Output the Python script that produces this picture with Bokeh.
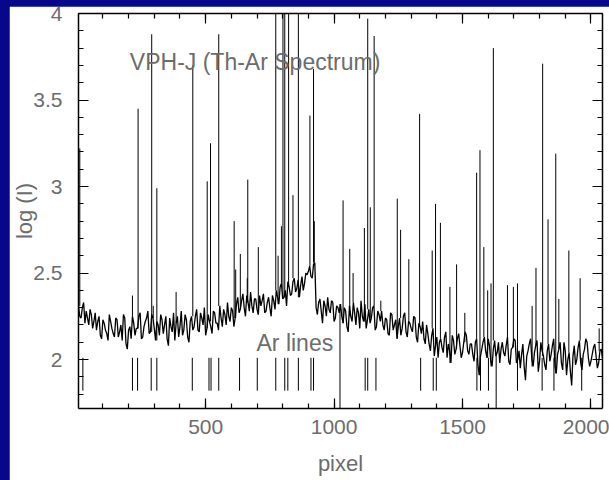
import numpy as np
from bokeh.plotting import figure
from bokeh.models import LinearAxis, SingleIntervalTicker, Range1d, CustomJSTickFormatter
from bokeh.layouts import column
from bokeh.embed import file_html
from bokeh.resources import INLINE
from bokeh.core.properties import value

# ---- data ----
# continuum samples at pixel 5, 15, 25, ...
pix_start, pix_step = 5, 10
continuum = [
    2.31, 2.24, 2.33, 2.28, 2.20, 2.26, 2.22,
    2.17, 2.25, 2.12, 2.21, 2.15, 2.26, 2.18, 2.13,
    2.23, 2.16, 2.11, 2.24, 2.06, 2.19, 2.25, 2.14,
    2.18, 2.27, 2.13, 2.22, 2.28, 2.16, 2.24, 2.11, 2.20, 2.26,
    2.15, 2.25, 2.08, 2.19, 2.27, 2.21, 2.13, 2.28, 2.17, 2.23, 2.10, 2.25,
    2.19, 2.29, 2.16, 2.24, 2.30, 2.18, 2.22, 2.15, 2.27,
    2.21, 2.31, 2.19, 2.26, 2.33, 2.22, 2.28,
    2.24, 2.36, 2.29, 2.38, 2.25, 2.33, 2.39, 2.27,
    2.35, 2.26, 2.31, 2.38, 2.28, 2.36, 2.25, 2.34,
    2.40, 2.32, 2.44, 2.36, 2.31, 2.42,
    2.38, 2.47, 2.41, 2.36, 2.48, 2.44,
    2.49, 2.54, 2.47, 2.56,
    2.26, 2.35, 2.21, 2.31, 2.36, 2.27, 2.33, 2.24, 2.30,
    2.32, 2.21, 2.28, 2.16, 2.25, 2.33, 2.20, 2.27, 2.34, 2.22, 2.18, 2.29, 2.24, 2.31, 2.19, 2.26,
    2.28, 2.17, 2.23, 2.14, 2.26, 2.20, 2.12, 2.24, 2.18, 2.27, 2.13, 2.21, 2.16, 2.24, 2.10, 2.19, 2.22, 2.09,
    2.15, 2.05, 2.18, 2.08, 2.01,
    2.12, 2.04, 2.16, 2.09, 1.98, 2.11, 2.06, 2.15, 2.01, 2.10, 2.14, 2.03,
    2.09, 1.99, 2.12, 1.91, 2.06, 2.13, 2.01, 2.08, 1.96, 2.11, 2.04, 1.98,
    2.10, 2.02, 2.13, 1.97, 2.07, 2.11, 2.00, 1.95, 2.09, 1.88,
    2.05, 2.12, 1.96, 2.08, 1.93, 2.10, 2.02,
    1.94, 2.09, 2.03, 2.12, 1.92, 2.06, 1.98, 2.10, 1.91, 2.04, 1.85, 2.08,
    2.00, 2.11, 1.94, 2.06, 2.10, 1.96, 2.03, 2.09, 1.95, 2.05, 2.01,
]
# continuum samples in between, at pixel 10, 20, 30, ...
mid_start = 10
continuum_mid = [
    2.25, 2.30, 2.21, 2.24, 2.29, 2.18, 2.27,
    2.22, 2.14, 2.23, 2.17, 2.11, 2.22, 2.15, 2.24,
    2.13, 2.20, 2.26, 2.09, 2.17, 2.12, 2.21, 2.18,
    2.25, 2.12, 2.19, 2.24, 2.15, 2.26, 2.18, 2.22, 2.14, 2.23,
    2.20, 2.12, 2.24, 2.16, 2.11, 2.25, 2.19, 2.14, 2.26, 2.13, 2.22, 2.17,
    2.25, 2.17, 2.27, 2.20, 2.14, 2.26, 2.19, 2.28, 2.21,
    2.17, 2.24, 2.29, 2.20, 2.25, 2.30, 2.19,
    2.32, 2.27, 2.34, 2.30, 2.37, 2.28, 2.31, 2.35,
    2.29, 2.37, 2.34, 2.27, 2.33, 2.30, 2.37, 2.29,
    2.36, 2.42, 2.35, 2.40, 2.45, 2.37,
    2.45, 2.39, 2.46, 2.43, 2.40, 2.50,
    2.51, 2.48, 2.55, 2.30,
    2.33, 2.28, 2.34, 2.25, 2.29, 2.34, 2.22, 2.31, 2.27,
    2.25, 2.30, 2.19, 2.31, 2.22, 2.27, 2.30, 2.18, 2.25, 2.32, 2.23, 2.21, 2.30, 2.17, 2.28, 2.22,
    2.20, 2.24, 2.15, 2.27, 2.17, 2.23, 2.19, 2.14, 2.25, 2.16, 2.22, 2.18, 2.25, 2.13, 2.21, 2.15, 2.12, 2.20,
    2.09, 2.14, 2.02, 2.13, 2.10,
    2.07, 2.13, 2.01, 2.05, 2.14, 2.03, 2.12, 2.08, 2.04, 2.16, 2.05, 2.09,
    2.03, 2.10, 1.97, 2.02, 2.10, 2.05, 2.12, 1.99, 2.06, 2.02, 2.10, 2.06,
    2.04, 2.08, 1.99, 2.06, 2.12, 1.98, 2.05, 2.03, 1.96, 2.02,
    2.09, 2.00, 2.04, 2.11, 1.99, 2.05, 1.97,
    2.05, 1.99, 2.08, 1.96, 2.03, 2.10, 1.94, 2.05, 2.00, 1.93, 2.02, 1.97,
    2.07, 1.98, 2.03, 2.12, 2.01, 1.99, 2.07, 2.02, 1.98, 2.06,
]
peak_pix = [10, 215, 237, 290, 296, 310, 385, 450, 506, 519,
            551, 611, 617, 635, 662, 664, 705, 773, 782, 795,
            801, 808, 823, 840, 861, 906, 920, 923, 1035, 1061,
            1074, 1118, 1131, 1141, 1156, 1182, 1246, 1259, 1291, 1333,
            1382, 1395, 1414, 1451, 1477, 1509, 1555, 1568, 1583, 1598,
            1611, 1620, 1675, 1698, 1714, 1771, 1786, 1812, 1833, 1863,
            1875, 1914, 1958, 2032]
peak_top = [3.22, 2.37, 3.45, 3.88, 2.31, 2.99, 2.39, 3.70, 3.03, 3.25,
            3.88, 2.80, 2.52, 2.61, 2.47, 3.04, 2.65, 4.2, 2.60, 2.77,
            4.2, 4.2, 4.2, 2.95, 4.2, 3.41, 3.68, 2.80, 2.92, 2.64,
            2.50, 2.76, 3.97, 2.88, 3.87, 2.34, 2.93, 2.75, 2.58, 3.42,
            2.63, 2.90, 2.79, 2.42, 2.55, 2.27, 3.08, 3.21, 2.65, 2.40,
            2.44, 3.80, 2.43, 2.42, 2.44, 2.31, 2.53, 3.71, 2.81, 3.19,
            2.35, 2.63, 2.47, 2.18]
dip_pix = [1023, 1631]
dip_bottom = [1.60, 1.60]
ar_lines = [22, 215, 235, 288, 310, 448, 513, 521, 551, 632, 701, 773, 808,
            820, 861, 910, 920, 1121, 1131, 1163, 1337, 1386, 1398, 1556,
            1570, 1601, 1714, 1810, 1856, 1964]
ar_top, ar_bottom = 2.01, 1.82

x_a = pix_start + pix_step * np.arange(len(continuum))
x_b = mid_start + pix_step * np.arange(len(continuum_mid))
x_all = np.concatenate([x_a, x_b])
y_all = np.concatenate([continuum, continuum_mid])
order = np.argsort(x_all)
x_spec, y_spec = x_all[order], y_all[order]

def base_at(px):
    return continuum[int(round((px - pix_start) / pix_step))]
peak_base = [base_at(x) for x in peak_pix]
dip_base = [base_at(x) for x in dip_pix]

FONT = "Liberation Sans"
GRAY = "#6c6c6c"

p = figure(width=600, height=474, x_range=Range1d(5, 2045), y_range=Range1d(1.717, 4.0),
           output_backend="svg", toolbar_location=None,
           min_border_left=64, min_border_right=7, min_border_top=7, min_border_bottom=72)
p.grid.visible = False
p.outline_line_color = None
p.background_fill_color = "white"
p.border_fill_color = "white"

p.line(x_spec, y_spec, line_color="black", line_width=1.3)
p.segment(x0=peak_pix, y0=peak_base, x1=peak_pix, y1=peak_top, line_color="black", line_width=1)
p.segment(x0=dip_pix, y0=dip_base, x1=dip_pix, y1=dip_bottom, line_color="black", line_width=1)
p.segment(x0=ar_lines, y0=[ar_bottom] * len(ar_lines), x1=ar_lines, y1=[ar_top] * len(ar_lines),
          line_color="black", line_width=1)

p.text(x=[205], y=[3.72], text=["VPH-J (Th-Ar Spectrum)"], text_font=value(FONT),
       text_font_size="23px", text_color=GRAY, text_baseline="middle", text_align="left")
p.text(x=[698], y=[2.098], text=["Ar lines"], text_font=value(FONT),
       text_font_size="23px", text_color=GRAY, text_baseline="middle", text_align="left")

xt = SingleIntervalTicker(interval=500, num_minor_ticks=5)
yt = SingleIntervalTicker(interval=0.5, num_minor_ticks=5)
fmt = CustomJSTickFormatter(code="return String(Math.round(tick*10)/10)")
blank = CustomJSTickFormatter(code="return ''")

def style(ax, labels):
    ax.major_tick_in = 10
    ax.major_tick_out = 0
    ax.minor_tick_in = 5
    ax.minor_tick_out = 0
    ax.axis_line_color = "black"
    ax.axis_line_width = 1.5
    ax.major_tick_line_width = 1.2
    ax.minor_tick_line_width = 1.2
    if labels:
        ax.major_label_text_font = FONT
        ax.major_label_text_font_size = "21px"
        ax.major_label_text_color = GRAY
        ax.axis_label_text_font = FONT
        ax.axis_label_text_font_size = "22px"
        ax.axis_label_text_font_style = "normal"
        ax.axis_label_text_color = GRAY
    else:
        ax.formatter = blank
        ax.major_label_text_font_size = "1px"
        ax.major_label_standoff = 0

xa = p.xaxis[0]
xa.ticker = xt
xa.formatter = fmt
xa.axis_label = "pixel"
style(xa, True)
xa.major_label_standoff = 11
xa.axis_label_standoff = 14

ya = p.yaxis[0]
ya.ticker = yt
ya.formatter = fmt
ya.axis_label = "log (I)"
style(ya, True)
ya.major_label_standoff = 16
ya.axis_label_standoff = -7
ya.major_label_orientation = "horizontal"

top = LinearAxis(ticker=xt)
style(top, False)
p.add_layout(top, "above")
right = LinearAxis(ticker=yt)
style(right, False)
p.add_layout(right, "right")

layout = column(p, width=609, height=480,
                styles={"background-color": "#07078c", "padding-left": "9px",
                        "padding-top": "6px", "box-sizing": "border-box"})

open("out.html", "w").write(file_html(layout, INLINE))
